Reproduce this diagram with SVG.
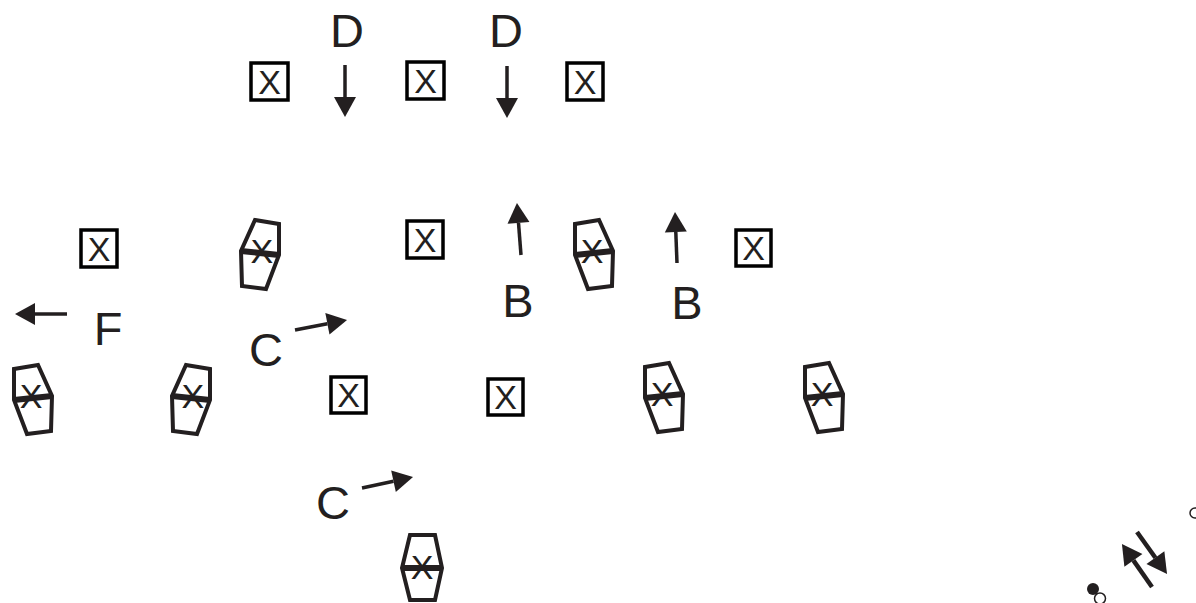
<svg xmlns="http://www.w3.org/2000/svg" width="1196" height="603" viewBox="0 0 1196 603">
<style>
.box{fill:none;stroke:#000;stroke-width:3.5}
.x{font-family:"Liberation Sans",Arial,sans-serif;font-size:34px;text-anchor:middle;fill:#231f20}
.lbl{font-family:"Liberation Sans",Arial,sans-serif;font-size:47px;text-anchor:middle;fill:#231f20}
.shp{fill:none;stroke:#231f20;stroke-width:4;stroke-linejoin:miter}
.mid{stroke:#231f20;stroke-width:6}
.arr{stroke:#231f20;stroke-width:3.5;fill:none;marker-end:url(#ah)}
</style>
<defs>
<marker id="ah" markerUnits="userSpaceOnUse" markerWidth="22" markerHeight="22" refX="0" refY="11" orient="auto" overflow="visible">
<path d="M0,0 L20,11 L0,22 Z" fill="#231f20"/>
</marker>
<g id="pb">
<path class="shp" d="M-19,1 L-19,-30 L5,-34 L19,-3 L18,32 L-6,35 Z"/>
<path class="mid" d="M-19,1 L19,-3"/>
<text class="x" x="-2" y="9">X</text>
</g>
<g id="pu">
<path class="shp" d="M-20,0 L-12,-33 L13,-33 L20,0 L13,32 L-12,32 Z"/>
<path class="mid" d="M-20,0 L20,0"/>
<text class="x" x="0" y="11">X</text>
</g>
</defs>
<g id="box1"><rect class="box" x="251" y="63" width="37" height="37"/><text class="x" x="269.5" y="94">X</text></g>
<g id="box2"><rect class="box" x="407" y="62" width="37" height="37"/><text class="x" x="425.5" y="93">X</text></g>
<g id="box3"><rect class="box" x="567" y="63" width="36" height="37"/><text class="x" x="585" y="94">X</text></g>
<g id="box4"><rect class="box" x="81" y="230" width="36" height="37"/><text class="x" x="99" y="261">X</text></g>
<g id="box5"><rect class="box" x="407" y="221" width="36" height="37"/><text class="x" x="425" y="252">X</text></g>
<g id="box6"><rect class="box" x="736" y="230" width="35" height="36"/><text class="x" x="753.5" y="260">X</text></g>
<g id="box7"><rect class="box" x="331" y="377" width="35" height="36"/><text class="x" x="348.5" y="407">X</text></g>
<g id="box8"><rect class="box" x="488" y="379" width="35" height="36"/><text class="x" x="505.5" y="409">X</text></g>
<g id="p1"><use href="#pb" transform="translate(260,254) scale(-1,1)"/></g>
<g id="p2"><use href="#pb" transform="translate(594,254)"/></g>
<g id="p3"><use href="#pb" transform="translate(33,399)"/></g>
<g id="p4"><use href="#pb" transform="translate(191,399) scale(-1,1)"/></g>
<g id="p5"><use href="#pb" transform="translate(664,397)"/></g>
<g id="p6"><use href="#pb" transform="translate(824,397)"/></g>
<g id="p7"><use href="#pu" transform="translate(422,568)"/></g>
<g id="labels">
<text class="lbl" x="347" y="47">D</text>
<text class="lbl" x="506" y="47">D</text>
<text class="lbl" x="518" y="317">B</text>
<text class="lbl" x="687" y="319">B</text>
<text class="lbl" x="266" y="366">C</text>
<text class="lbl" x="333" y="519">C</text>
<text class="lbl" x="108" y="345">F</text>
</g>
<g id="connectors">
<path class="arr" d="M345,65 L345,97"/>
<path class="arr" d="M507,66 L507,98"/>
<path class="arr" d="M521,255 L518.5,222.9"/>
<path class="arr" d="M677,263 L675.8,232"/>
<path class="arr" d="M295,330 L327.4,323.8"/>
<path class="arr" d="M362,488 L393.5,481.2"/>
<path class="arr" d="M67,314 L35,314"/>
<path class="arr" style="stroke-width:4.5" d="M1152,587 L1133.4,560.4"/>
<path class="arr" style="stroke-width:4.5" d="M1137,532 L1155.4,557.7"/>
</g>
<g id="dots">
<circle cx="1093" cy="589" r="6" fill="#231f20"/>
<circle cx="1100" cy="598.5" r="5.5" fill="none" stroke="#231f20" stroke-width="1.5"/>
<circle cx="1195" cy="513" r="5" fill="none" stroke="#231f20" stroke-width="1.5"/>
</g>
</svg>
